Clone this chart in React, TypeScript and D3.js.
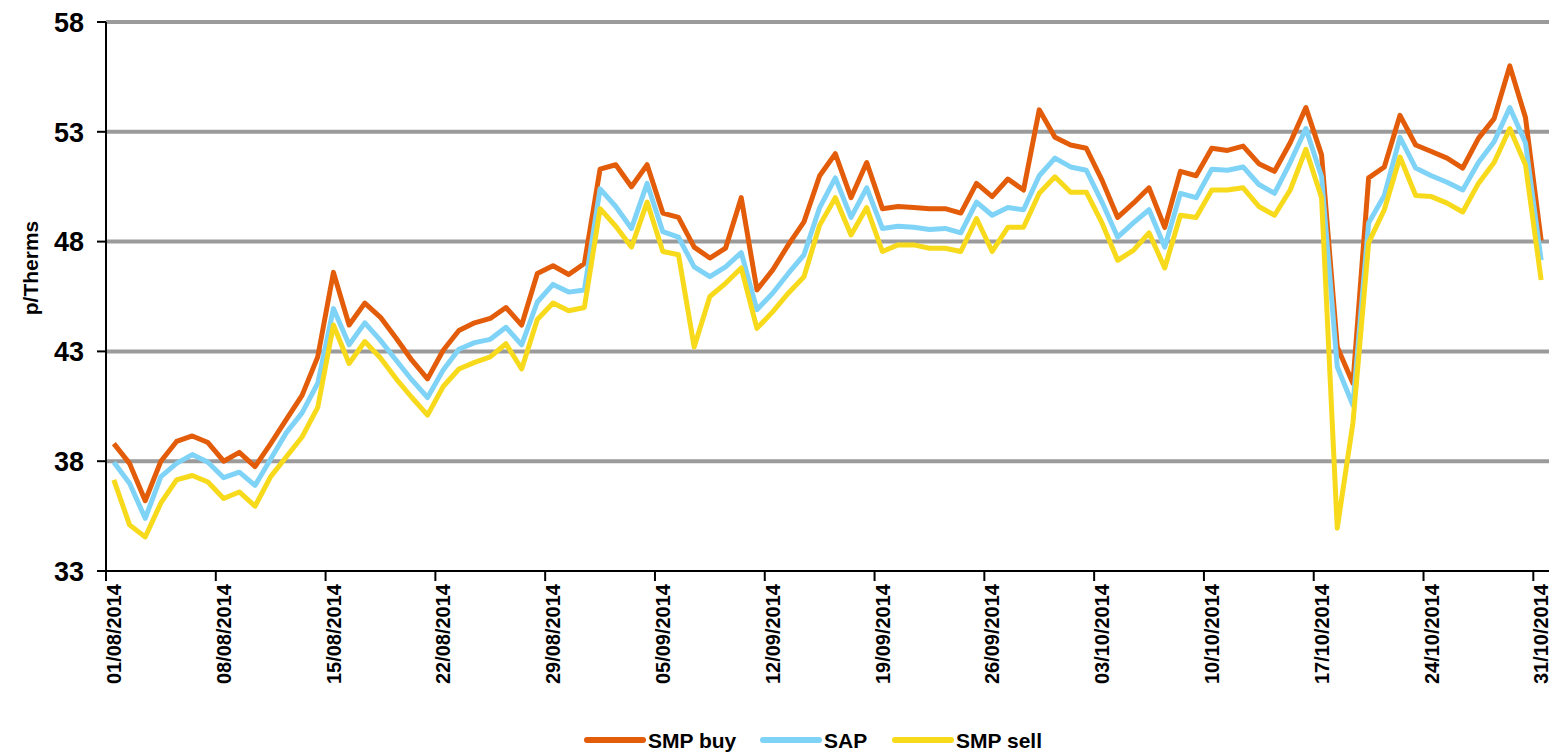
import React, { useEffect, useRef } from "react";
import * as d3 from "d3";

// daily categories 01/08/2014 - 31/10/2014
const days: Date[] = d3.timeDay.range(new Date(2014, 7, 1), new Date(2014, 10, 1));

const tickLabels = [
  "01/08/2014", "08/08/2014", "15/08/2014", "22/08/2014", "29/08/2014",
  "05/09/2014", "12/09/2014", "19/09/2014", "26/09/2014", "03/10/2014",
  "10/10/2014", "17/10/2014", "24/10/2014", "31/10/2014",
];
const yTicks = [33, 38, 43, 48, 53, 58];

const smpBuy = [
  38.8, 37.9, 36.2, 38.0, 38.9, 39.15, 38.85, 38.0, 38.4, 37.75,
  38.8, 39.9, 41.0, 42.75, 46.6, 44.2, 45.2, 44.55, 43.6, 42.6,
  41.75, 43.05, 43.95, 44.3, 44.5, 45.0, 44.2, 46.55, 46.9, 46.5,
  47.0, 51.3, 51.5, 50.5, 51.5, 49.3, 49.1, 47.75, 47.25, 47.7,
  50.0, 45.8, 46.7, 47.85, 48.9, 51.0, 52.0, 50.0, 51.6, 49.5,
  49.6, 49.55, 49.5, 49.5, 49.3, 50.65, 50.05, 50.85, 50.35, 54.0,
  52.75, 52.4, 52.25, 50.8, 49.1, 49.75, 50.45, 48.65, 51.2, 51.0,
  52.25, 52.15, 52.35, 51.55, 51.2, 52.5, 54.1, 51.95, 43.2, 41.55,
  50.9, 51.4, 53.75, 52.4, 52.1, 51.8, 51.35, 52.7, 53.6, 56.0,
  53.65, 48.05,
];
const sap = [
  37.95, 37.0, 35.4, 37.3, 37.9, 38.3, 37.95, 37.25, 37.5, 36.9,
  38.1, 39.3, 40.2, 41.55, 44.95, 43.3, 44.3, 43.5, 42.6, 41.7,
  40.9, 42.15, 43.1, 43.4, 43.55, 44.1, 43.3, 45.25, 46.05, 45.7,
  45.8, 50.4, 49.6, 48.6, 50.65, 48.45, 48.2, 46.85, 46.4, 46.85,
  47.5, 44.9, 45.65, 46.55, 47.4, 49.55, 50.9, 49.1, 50.45, 48.6,
  48.7, 48.65, 48.55, 48.6, 48.4, 49.8, 49.2, 49.55, 49.45, 51.0,
  51.8, 51.4, 51.25, 49.8, 48.2, 48.85, 49.45, 47.75, 50.2, 50.0,
  51.3, 51.25, 51.4, 50.6, 50.2, 51.6, 53.15, 50.95, 42.3, 40.55,
  48.85, 50.1, 52.75, 51.35, 51.0, 50.7, 50.35, 51.6, 52.55, 54.1,
  52.5, 47.15,
];
const smpSell = [
  37.15, 35.1, 34.55, 36.1, 37.15, 37.35, 37.05, 36.3, 36.6, 35.95,
  37.3, 38.2, 39.1, 40.45, 44.2, 42.45, 43.45, 42.7, 41.75, 40.9,
  40.1, 41.4, 42.2, 42.5, 42.75, 43.35, 42.2, 44.45, 45.2, 44.85,
  45.0, 49.5, 48.7, 47.75, 49.8, 47.55, 47.4, 43.2, 45.5, 46.1,
  46.8, 44.05, 44.8, 45.65, 46.4, 48.75, 50.0, 48.3, 49.55, 47.55,
  47.85, 47.85, 47.7, 47.7, 47.55, 49.05, 47.55, 48.65, 48.65, 50.2,
  50.95, 50.25, 50.25, 48.85, 47.15, 47.6, 48.4, 46.8, 49.2, 49.1,
  50.35, 50.35, 50.45, 49.6, 49.2, 50.35, 52.2, 50.0, 34.95, 39.75,
  47.95, 49.45, 51.85, 50.1, 50.05, 49.75, 49.35, 50.65, 51.6, 53.15,
  51.5, 46.25,
];

const series = [
  { name: "SMP buy", color: "#E35C0A", values: smpBuy },
  { name: "SAP", color: "#7FD3F7", values: sap },
  { name: "SMP sell", color: "#F7DA1B", values: smpSell },
];

const W = 1552;
const H = 754;
const FONT = "'Liberation Sans', Arial, sans-serif";

const App: React.FC = () => {
  const ref = useRef<SVGSVGElement | null>(null);

  useEffect(() => {
    if (!ref.current) return;
    const svg = d3.select(ref.current);
    svg.selectAll("*").remove();

    const left = 106, right = 1549, top = 22, bottom = 571;
    const fmt = d3.timeFormat("%d/%m/%Y");

    const x = d3.scaleBand<string>().domain(days.map(fmt)).range([left, right]).padding(0);
    const y = d3.scaleLinear().domain([33, 58]).range([bottom, top]);
    const cx = (i: number) => (x(fmt(days[i])) as number) + x.bandwidth() / 2;

    // gridlines
    svg.append("g")
      .selectAll("line")
      .data(yTicks.slice(1))
      .enter()
      .append("line")
      .attr("x1", left)
      .attr("x2", right)
      .attr("y1", (d) => y(d))
      .attr("y2", (d) => y(d))
      .attr("stroke", "#9b9b9b")
      .attr("stroke-width", 4);

    // y axis
    const ya = svg.append("g");
    ya.append("line").attr("x1", left).attr("x2", left).attr("y1", top).attr("y2", bottom + 1)
      .attr("stroke", "#000").attr("stroke-width", 2);
    ya.selectAll("line.t").data(yTicks).enter().append("line").attr("class", "t")
      .attr("x1", left - 9).attr("x2", left).attr("y1", (d) => y(d)).attr("y2", (d) => y(d))
      .attr("stroke", "#000").attr("stroke-width", 2);
    ya.selectAll("text").data(yTicks).enter().append("text")
      .attr("x", 84).attr("y", (d) => y(d)).attr("dy", "0.36em")
      .attr("text-anchor", "end").attr("font-family", FONT).attr("font-weight", "bold")
      .attr("font-size", 27).text((d) => d);

    svg.append("text")
      .attr("transform", "translate(38,268) rotate(-90)")
      .attr("text-anchor", "middle").attr("font-family", FONT).attr("font-weight", "bold")
      .attr("font-size", 21).text("p/Therms");

    // x axis
    const xa = svg.append("g");
    xa.append("line").attr("x1", left - 1).attr("x2", right).attr("y1", bottom).attr("y2", bottom)
      .attr("stroke", "#000").attr("stroke-width", 2);
    const tickIdx = tickLabels.map((t) => days.findIndex((d) => fmt(d) === t));
    xa.selectAll("line.t").data(tickIdx).enter().append("line").attr("class", "t")
      .attr("x1", (i) => x(fmt(days[i])) as number).attr("x2", (i) => x(fmt(days[i])) as number)
      .attr("y1", bottom).attr("y2", bottom + 10)
      .attr("stroke", "#000").attr("stroke-width", 2);
    xa.selectAll("text").data(tickIdx).enter().append("text")
      .attr("transform", (i) => `translate(${cx(i)},584) rotate(-90)`)
      .attr("dy", "0.36em").attr("text-anchor", "end")
      .attr("font-family", FONT).attr("font-weight", "bold").attr("font-size", 20)
      .text((i) => fmt(days[i]));

    // lines
    const line = d3.line<number>().x((_, i) => cx(i)).y((d) => y(d));
    svg.append("g")
      .selectAll("path")
      .data(series)
      .enter()
      .append("path")
      .attr("d", (s) => line(s.values) || "")
      .attr("fill", "none")
      .attr("stroke", (s) => s.color)
      .attr("stroke-width", 5)
      .attr("stroke-linejoin", "round");

    // legend
    const legendX = [587, 763, 895];
    const lg = svg.append("g").selectAll("g").data(series).enter().append("g")
      .attr("transform", (_, i) => `translate(${legendX[i]},740)`);
    lg.append("line").attr("x1", 0).attr("x2", 56).attr("y1", 0).attr("y2", 0)
      .attr("stroke", (s) => s.color).attr("stroke-width", 6).attr("stroke-linecap", "round");
    lg.append("text").attr("x", 61).attr("y", 0).attr("dy", "0.36em")
      .attr("font-family", FONT).attr("font-weight", "bold").attr("font-size", 21)
      .text((s) => s.name);
  }, []);

  return (
    <svg
      ref={ref}
      width={W}
      height={H}
      style={{ position: "absolute", left: 0, top: 0, background: "#fff" }}
    />
  );
};

export default App;
